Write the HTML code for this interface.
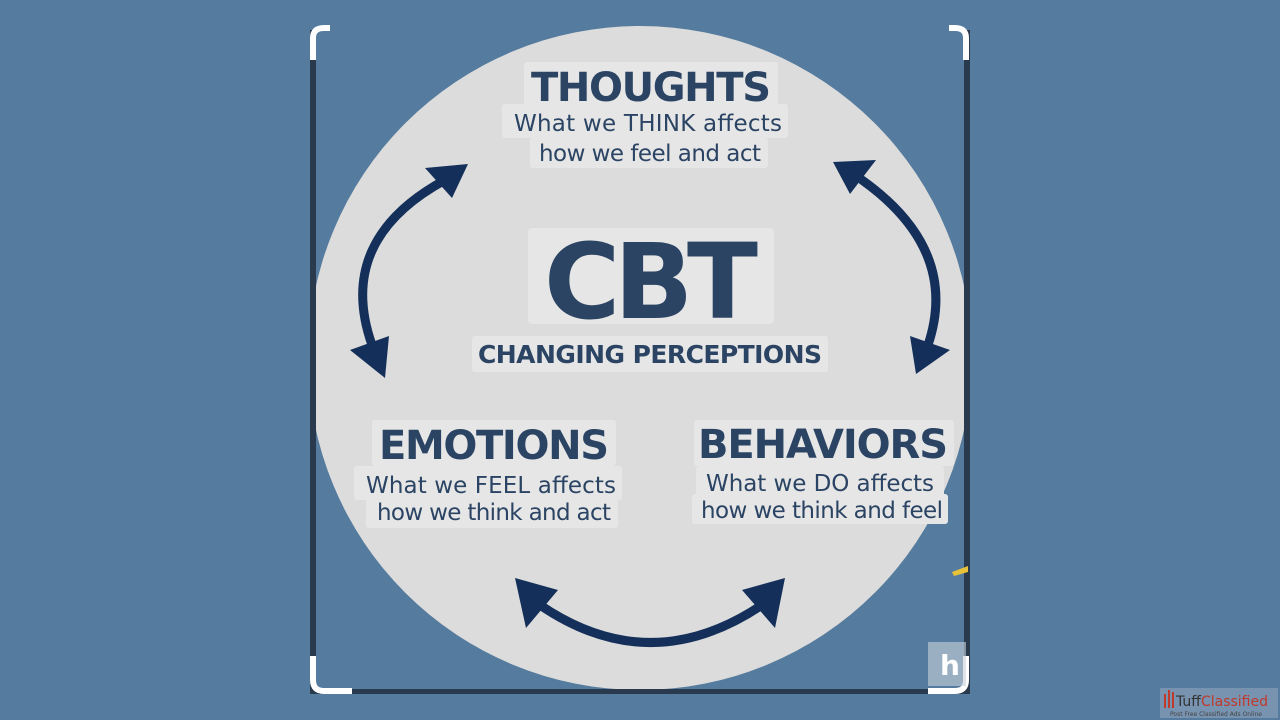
<!DOCTYPE html>
<html><head><style>
body{margin:0;background:#557b9e;width:1280px;height:720px;overflow:hidden}
svg{position:absolute;left:0;top:0}
text{font-family:"DejaVu Sans","Liberation Sans",sans-serif;fill:#2b4464}
</style></head><body>
<svg width="1280" height="720" viewBox="0 0 1280 720">
<defs><clipPath id="c"><rect x="312" y="26" width="656" height="666"/></clipPath></defs>
<rect x="310" y="26" width="660" height="668" fill="#557b9e"/>
<g clip-path="url(#c)">
<circle cx="640" cy="358" r="332" fill="#dcdcdc"/>
</g>
<rect x="310" y="30" width="6" height="664" fill="#2a3a4e"/>
<rect x="310" y="689" width="660" height="5" fill="#2a3a4e"/>
<rect x="964" y="30" width="6" height="664" fill="#2a3a4e"/>
<path d="M313 60 V38 Q313 28 324 28 H330" stroke="#fff" stroke-width="6" fill="none"/>
<path d="M966 60 V38 Q966 28 955 28 H949" stroke="#fff" stroke-width="6" fill="none"/>
<path d="M313 656 V680 Q313 691 324 691 H352" stroke="#fff" stroke-width="6" fill="none"/>
<path d="M966 656 V680 Q966 691 955 691 H928" stroke="#fff" stroke-width="6" fill="none"/>
<g fill="#e6e6e6">
<rect x="524" y="62" width="254" height="46" rx="3"/>
<rect x="502" y="104" width="286" height="34" rx="3"/>
<rect x="530" y="138" width="238" height="30" rx="3"/>
<rect x="528" y="228" width="246" height="96" rx="4"/>
<rect x="472" y="336" width="356" height="36" rx="3"/>
<rect x="372" y="420" width="244" height="46" rx="3"/>
<rect x="354" y="466" width="268" height="34" rx="3"/>
<rect x="366" y="498" width="252" height="30" rx="3"/>
<rect x="694" y="420" width="260" height="46" rx="3"/>
<rect x="696" y="466" width="248" height="30" rx="3"/>
<rect x="692" y="494" width="256" height="30" rx="3"/>
</g>
<g fill="none" stroke="#14305a" stroke-width="9" stroke-linecap="round">
<path d="M372 345 Q335 240 445 180"/>
<path d="M862 180 Q960 250 928 345"/>
<path d="M540 605 Q650 680 762 605"/>
</g>
<g fill="#14305a">
<polygon points="468,164 425,168 452,198"/>
<polygon points="350,350 389,336 385,378"/>
<polygon points="833,162 876,160 850,194"/>
<polygon points="950,350 910,336 916,374"/>
<polygon points="515,578 558,590 526,628"/>
<polygon points="785,578 742,590 775,628"/>
</g>
<polygon points="952,572 968,566 968,572 954,576" fill="#e7c23a"/>
<rect x="928" y="642" width="38" height="44" fill="#c9d2da" opacity="0.6"/>
<text x="940" y="675" font-size="28" font-weight="bold" style="fill:#fff">h</text>
<text x="651" y="101" font-size="40" font-weight="bold" text-anchor="middle" textLength="240">THOUGHTS</text>
<text x="648" y="131" font-size="23" text-anchor="middle" textLength="268">What we THINK affects</text>
<text x="650" y="161" font-size="23" text-anchor="middle" textLength="222">how we feel and act</text>
<text x="651" y="318" font-size="104" font-weight="bold" text-anchor="middle" textLength="214">CBT</text>
<text x="650" y="363" font-size="25" font-weight="bold" text-anchor="middle" textLength="344">CHANGING PERCEPTIONS</text>
<text x="494" y="459" font-size="40" font-weight="bold" text-anchor="middle" textLength="230">EMOTIONS</text>
<text x="491" y="493" font-size="23" text-anchor="middle" textLength="250">What we FEEL affects</text>
<text x="494" y="520" font-size="23" text-anchor="middle" textLength="234">how we think and act</text>
<text x="823" y="458" font-size="40" font-weight="bold" text-anchor="middle" textLength="250">BEHAVIORS</text>
<text x="820" y="491" font-size="23" text-anchor="middle" textLength="228">What we DO affects</text>
<text x="822" y="518" font-size="23" text-anchor="middle" textLength="242">how we think and feel</text>
<rect x="1160" y="688" width="118" height="30" fill="#8da4ba" opacity="0.6"/>
<g fill="#c0392b"><rect x="1164" y="694" width="2" height="14"/><rect x="1168" y="690" width="2" height="18"/><rect x="1172" y="692" width="2" height="16"/></g>
<text x="1176" y="706" font-size="14" style="fill:#333">Tuff<tspan style="fill:#c0392b">Classified</tspan></text>
<text x="1170" y="716" font-size="6" style="fill:#444">Post Free Classified Ads Online</text>
</svg>
</body></html>
